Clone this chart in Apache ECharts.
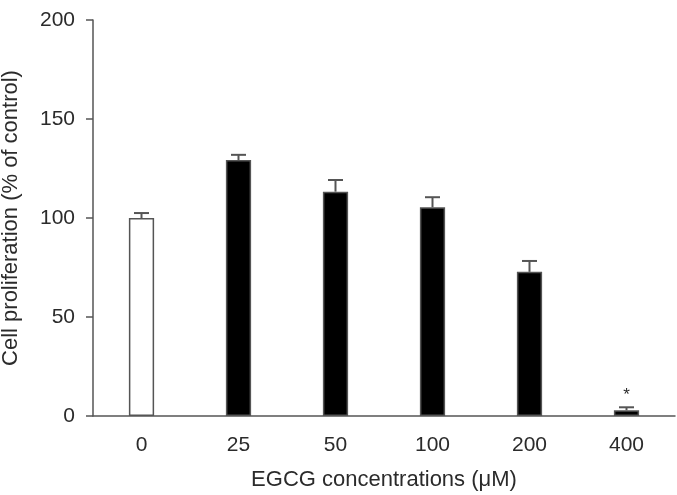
<!DOCTYPE html>
<html>
<head>
<meta charset="utf-8">
<script src="https://cdn.jsdelivr.net/npm/echarts@6/dist/echarts.min.js"></script>
<style>
  html, body { margin: 0; padding: 0; background: #fff; }
  #chart { width: 677px; height: 495px; }
</style>
</head>
<body>
<div id="chart"></div>
<script>
var categories = ["0", "25", "50", "100", "200", "400"];
var means = [100, 129.3, 113.3, 105.4, 72.8, 2.9];
var upper = [102.5, 131.9, 119.2, 110.5, 78.3, 4.4];
var marks = ["", "", "", "", "", "*"];
var fills = ["#ffffff", "#000000", "#000000", "#000000", "#000000", "#000000"];

var axisColor = "#555";
var textColor = "#2b2b2b";
var font = "Liberation Sans, Arial, sans-serif";

var chart = echarts.init(document.getElementById("chart"), null, {renderer: "canvas"});

var barData = means.map(function (v, i) {
  return {value: v, itemStyle: {color: fills[i]}};
});
var errData = categories.map(function (c, i) {
  return [i, means[i], upper[i]];
});

chart.setOption({
  animation: false,
  grid: {left: 93, right: 2, top: 20, bottom: 79, outerBoundsMode: "none", containLabel: false},
  xAxis: {
    type: "category",
    data: categories,
    name: "EGCG concentrations (\u03bcM)",
    nameLocation: "middle",
    nameGap: 53,
    nameTextStyle: {fontFamily: font, fontSize: 22, color: textColor},
    axisLine: {lineStyle: {color: axisColor, width: 1.5}},
    axisTick: {length: 8, lineStyle: {color: axisColor, width: 1.5}},
    axisLabel: {fontFamily: font, fontSize: 21, color: textColor, margin: 19}
  },
  yAxis: {
    type: "value",
    min: 0,
    max: 200,
    interval: 50,
    name: "Cell proliferation (% of control)",
    nameLocation: "middle",
    nameGap: 71,
    nameTextStyle: {fontFamily: font, fontSize: 22, color: textColor},
    splitLine: {show: false},
    axisLine: {show: true, lineStyle: {color: axisColor, width: 1.5}},
    axisTick: {show: true, length: 7, lineStyle: {color: axisColor, width: 1.5}},
    axisLabel: {fontFamily: font, fontSize: 21, color: textColor, margin: 18}
  },
  series: [
    {
      type: "bar",
      data: barData,
      barWidth: "26%",
      itemStyle: {borderColor: axisColor, borderWidth: 1.5}
    },
    {
      type: "custom",
      data: errData,
      z: 1,
      renderItem: function (params, api) {
        var i = api.value(0);
        var top = api.coord([i, api.value(2)]);
        var base = api.coord([i, api.value(1)]);
        var half = 7.5;
        var children = [
          {type: "line", shape: {x1: top[0], y1: top[1], x2: top[0], y2: base[1]},
            style: {stroke: axisColor, lineWidth: 2}},
          {type: "line", shape: {x1: top[0] - half, y1: top[1], x2: top[0] + half, y2: top[1]},
            style: {stroke: axisColor, lineWidth: 2}}
        ];
        if (marks[params.dataIndex]) {
          children.push({
            type: "text",
            x: top[0],
            y: top[1] - 12,
            style: {text: marks[params.dataIndex], fill: textColor, font: "17px " + font,
              align: "center", verticalAlign: "middle"}
          });
        }
        return {type: "group", children: children};
      }
    }
  ]
});
</script>
</body>
</html>
